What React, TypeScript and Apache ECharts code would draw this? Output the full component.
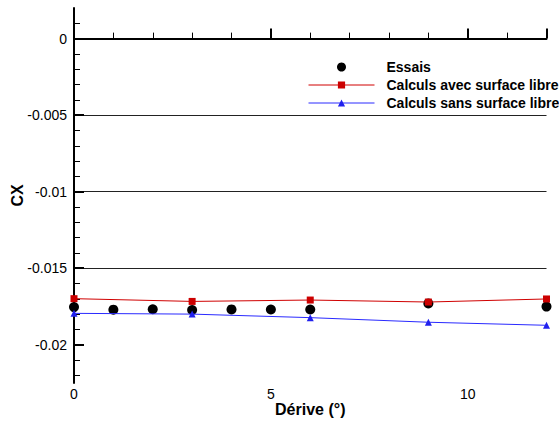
import React, { useEffect, useRef } from "react";
import * as echarts from "echarts";

const essaisX = [0, 1, 2, 3, 4, 5, 6, 9, 12];
const essaisY = [-0.01754, -0.01771, -0.01768, -0.01773, -0.01769, -0.0177, -0.0177, -0.0173, -0.01751];

const calcX = [0, 3, 6, 9, 12];
const avecY = [-0.01699, -0.01717, -0.01708, -0.01721, -0.01701];
const sansY = [-0.01795, -0.018, -0.01823, -0.01853, -0.01873];

const yTickValues = [-0.02, -0.015, -0.01, -0.005, 0];

const seriesNames = ["Essais", "Calculs avec surface libre", "Calculs sans surface libre"];
const xTitle = "Dérive (°)";
const yTitle = "CX";

const FONT = "'Liberation Sans', Arial, sans-serif";

export default function App() {
  const ref = useRef<HTMLDivElement>(null);
  useEffect(() => {
    if (!ref.current) return;
    const chart = echarts.init(ref.current, undefined, { renderer: "svg" });
    const pair = (xs: number[], ys: number[]) => xs.map((x, i) => [x, ys[i]]);
    chart.setOption({
      animation: false,
      backgroundColor: "#ffffff",
      textStyle: { fontFamily: FONT },
      grid: { left: 74, right: 12.5, top: 8, bottom: 42, containLabel: false, outerBoundsMode: "none" },
      legend: {
        orient: "vertical",
        left: 308,
        top: 60,
        itemWidth: 66,
        itemHeight: 9,
        itemGap: 4,
        padding: 0,
        data: seriesNames,
        lineStyle: { width: 1 },
        textStyle: { fontFamily: FONT, fontWeight: "bold", fontSize: 14, color: "#000", padding: [0, 0, 0, 7] },
      },
      xAxis: {
        type: "value",
        min: 0,
        max: 12,
        interval: 5,
        name: xTitle,
        nameLocation: "middle",
        nameGap: 18,
        nameMoveOverlap: false,
        nameTextStyle: { fontFamily: FONT, fontWeight: "bold", fontSize: 16, color: "#000" },
        axisLine: { show: true, lineStyle: { color: "#000", width: 2 } },
        axisTick: { show: true, inside: true, length: 10, lineStyle: { color: "#000", width: 2 } },
        minorTick: { show: true, splitNumber: 5, length: 6, lineStyle: { color: "#000", width: 1 } },
        axisLabel: { fontFamily: FONT, fontSize: 14, color: "#000", margin: 4, showMaxLabel: false },
        splitLine: { show: false },
      },
      yAxis: {
        type: "value",
        min: -0.0225,
        max: 0.002,
        splitNumber: 5,
        name: yTitle,
        nameLocation: "middle",
        nameGap: 49,
        nameMoveOverlap: false,
        nameTextStyle: { fontFamily: FONT, fontWeight: "bold", fontSize: 16, color: "#000" },
        axisLine: { show: true, lineStyle: { color: "#000", width: 2 } },
        axisTick: {
          show: true,
          inside: true,
          length: 10,
          customValues: yTickValues,
          lineStyle: { color: "#000", width: 2 },
        },
        minorTick: { show: true, splitNumber: 5, length: 6, lineStyle: { color: "#000", width: 1 } },
        axisLabel: {
          fontFamily: FONT,
          fontSize: 14,
          color: "#000",
          margin: 7,
          customValues: yTickValues,
          formatter: (v: number) => String(Number(v.toFixed(6))),
        },
        splitLine: { show: true, showMinLine: false, showMaxLine: false, lineStyle: { color: "#222", width: 1 } },
      },
      series: [
        {
          name: seriesNames[0],
          type: "scatter",
          symbol: "circle",
          symbolSize: 10,
          itemStyle: { color: "#000", opacity: 1 },
          data: pair(essaisX, essaisY),
          z: 2,
        },
        {
          name: seriesNames[1],
          type: "line",
          symbol: "rect",
          symbolSize: 7,
          showAllSymbol: true,
          itemStyle: { color: "#cc0000" },
          lineStyle: { color: "#d00000", width: 1 },
          data: pair(calcX, avecY),
          z: 3,
        },
        {
          name: seriesNames[2],
          type: "line",
          symbol: "triangle",
          symbolSize: 7,
          showAllSymbol: true,
          itemStyle: { color: "#2020ee" },
          lineStyle: { color: "#2a2aff", width: 1 },
          data: pair(calcX, sansY),
          z: 3,
        },
      ],
    });
    return () => chart.dispose();
  }, []);
  return (
    <div
      ref={ref}
      style={{ position: "absolute", left: 0, top: 0, width: 559, height: 425, background: "#fff" }}
    />
  );
}
